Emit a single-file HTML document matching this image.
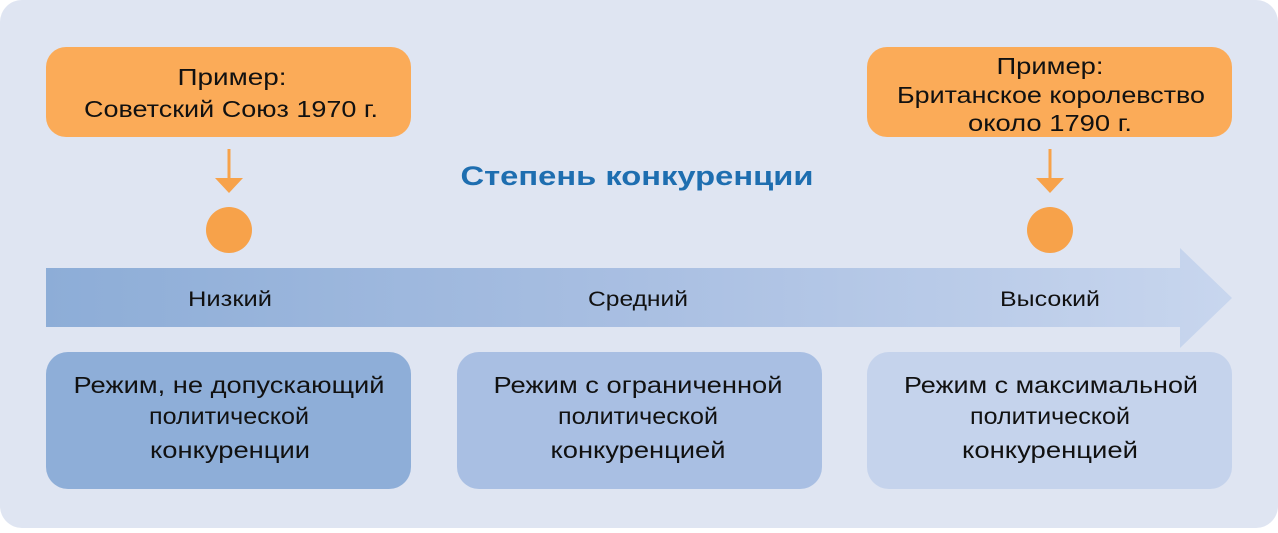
<!DOCTYPE html>
<html><head><meta charset="utf-8"><style>
html,body{margin:0;padding:0;background:#fff}
svg text{font-family:"Liberation Sans","DejaVu Sans",sans-serif}
</style></head><body>
<svg width="1278" height="528" viewBox="0 0 1278 528" xmlns="http://www.w3.org/2000/svg">
<defs>
<linearGradient id="ag" x1="0" x2="1" y1="0" y2="0">
<stop offset="0" stop-color="#8dadd7"/><stop offset="0.5" stop-color="#a9bfe2"/><stop offset="1" stop-color="#c8d6ee"/>
</linearGradient>
</defs>
<rect x="0" y="0" width="1278" height="528" rx="22" fill="#dfe5f2"/>
<rect x="46" y="47" width="365" height="90" rx="20" fill="#fbab58"/>
<rect x="867" y="47" width="365" height="90" rx="20" fill="#fbab58"/>
<g font-size="23" fill="#111" text-anchor="middle">
<text x="232" y="85" textLength="109" lengthAdjust="spacingAndGlyphs">Пример:</text>
<text x="231" y="117" textLength="294" lengthAdjust="spacingAndGlyphs">Советский Союз 1970 г.</text>
<text x="1050" y="74" textLength="107" lengthAdjust="spacingAndGlyphs">Пример:</text>
<text x="1051" y="103" textLength="308" lengthAdjust="spacingAndGlyphs">Британское королевство</text>
<text x="1050" y="131" textLength="164" lengthAdjust="spacingAndGlyphs">около 1790 г.</text>
</g>
<g fill="#f7a24a" stroke="#f7a24a">
<line x1="229" y1="149" x2="229" y2="180" stroke-width="3"/>
<polygon points="215,178 243,178 229,193" stroke="none"/>
<circle cx="229" cy="230" r="23" stroke="none"/>
<line x1="1050" y1="149" x2="1050" y2="180" stroke-width="3"/>
<polygon points="1036,178 1064,178 1050,193" stroke="none"/>
<circle cx="1050" cy="230" r="23" stroke="none"/>
</g>
<text x="637" y="185" font-size="27" font-weight="bold" fill="#1e6eb0" text-anchor="middle" textLength="353" lengthAdjust="spacingAndGlyphs">Степень конкуренции</text>
<polygon points="46,268 1180,268 1180,248 1232,298 1180,348 1180,327 46,327" fill="url(#ag)"/>
<g font-size="21" fill="#111" text-anchor="middle">
<text x="230" y="306" textLength="84" lengthAdjust="spacingAndGlyphs">Низкий</text>
<text x="638" y="306" textLength="100" lengthAdjust="spacingAndGlyphs">Средний</text>
<text x="1050" y="306" textLength="100" lengthAdjust="spacingAndGlyphs">Высокий</text>
</g>
<rect x="46" y="352" width="365" height="137" rx="22" fill="#8eaed8"/>
<rect x="457" y="352" width="365" height="137" rx="22" fill="#a9bfe3"/>
<rect x="867" y="352" width="365" height="137" rx="22" fill="#c5d3ec"/>
<g font-size="23" fill="#111" text-anchor="middle">
<text x="229" y="393" textLength="311" lengthAdjust="spacingAndGlyphs">Режим, не допускающий</text>
<text x="229" y="424" textLength="160" lengthAdjust="spacingAndGlyphs">политической</text>
<text x="230" y="458" textLength="160" lengthAdjust="spacingAndGlyphs">конкуренции</text>
<text x="638" y="393" textLength="289" lengthAdjust="spacingAndGlyphs">Режим с ограниченной</text>
<text x="638" y="424" textLength="160" lengthAdjust="spacingAndGlyphs">политической</text>
<text x="638" y="458" textLength="175" lengthAdjust="spacingAndGlyphs">конкуренцией</text>
<text x="1051" y="393" textLength="294" lengthAdjust="spacingAndGlyphs">Режим с максимальной</text>
<text x="1050" y="424" textLength="160" lengthAdjust="spacingAndGlyphs">политической</text>
<text x="1050" y="458" textLength="176" lengthAdjust="spacingAndGlyphs">конкуренцией</text>
</g>
</svg>
</body></html>
